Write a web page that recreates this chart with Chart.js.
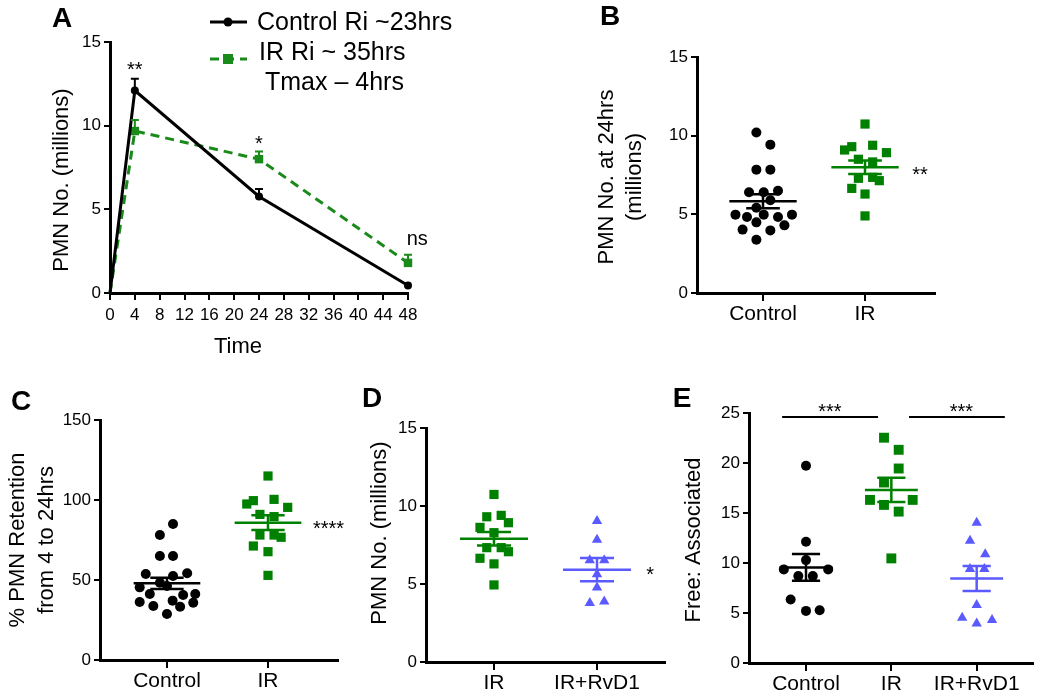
<!DOCTYPE html>
<html>
<head>
<meta charset="utf-8">
<script src="https://cdn.jsdelivr.net/npm/chart.js@4.4.0/dist/chart.umd.min.js"></script>
<style>
  body { margin: 0; background: #fff; }
  #wrap { position: relative; width: 1041px; height: 695px; }
  #wrap canvas { position: absolute; left: 0; top: 0; }
</style>
</head>
<body>
<div id="wrap">
  <canvas id="chartA" width="1041" height="695"></canvas>
  <canvas id="chartB" width="1041" height="695"></canvas>
  <canvas id="chartC" width="1041" height="695"></canvas>
  <canvas id="chartD" width="1041" height="695"></canvas>
  <canvas id="chartE" width="1041" height="695"></canvas>
</div>
<script>
// ---- A: time course ----
const timeHours = [0, 4, 24, 48];
const controlPMN = [0, 12.1, 5.77, 0.45];
const controlSEM = [0, 0.7, 0.44, 0];
const irPMN = [0, 9.68, 8.0, 1.8];
const irSEM = [0, 0.66, 0.46, 0.48];
const legendLabels = ["Control Ri ~23hrs", "IR Ri ~ 35hrs", "Tmax \u2013 4hrs"];

// ---- B: PMN at 24hrs ----
const bGroups = ["Control", "IR"];
const bControl = [10.2, 9.43, 7.84, 7.84, 6.4, 6.4, 6.5, 5.89, 5.42, 4.98, 4.83, 4.98, 4.83, 4.98, 4.03, 4.49, 3.98, 4.3, 3.39];
const bControlJit = [-0.065, 0.072, -0.065, 0.072, -0.137, 0.007, 0.147, 0.072, -0.065, -0.27, -0.157, 0.007, 0.147, 0.284, -0.2, -0.065, 0.072, 0.21, -0.065];
const bIR = [10.74, 9.09, 9.3, 9.39, 8.92, 8.5, 8.33, 7.29, 7.35, 7.14, 6.65, 6.29, 4.9];
const bIRJit = [0, -0.2, -0.13, 0.075, 0.21, -0.065, 0.075, -0.065, 0.075, 0.14, -0.13, 0, 0];
const bMean = [5.83, 7.99];
const bSEM = [0.45, 0.43];

// ---- C: % retention ----
const cGroups = ["Control", "IR"];
const cControl = [85, 78.1, 65, 65, 53.75, 52.5, 54.2, 48.3, 45.4, 41.25, 46.25, 40.6, 41.25, 36.25, 33.75, 37.1, 33.3, 35.8, 28.75];
const cControlJit = [0.06, -0.07, -0.07, 0.06, -0.21, 0.06, 0.2, -0.07, -0.27, -0.17, 0, 0.16, 0.28, -0.27, -0.135, 0.056, 0.13, 0.26, 0];
const cIR = [115, 97.5, 99.6, 100.4, 95.4, 91, 89.6, 78.1, 78.1, 76.7, 71.25, 67.7, 52.9];
const cIRJit = [0, -0.21, -0.145, 0.06, 0.195, -0.08, 0.06, -0.08, 0.06, 0.13, -0.145, 0, 0];
const cMean = [47.9, 85.8];
const cSEM = [3.45, 4.6];

// ---- D: IR vs IR+RvD1 ----
const dGroups = ["IR", "IR+RvD1"];
const dIR = [10.74, 9.31, 9.4, 8.63, 8.93, 8.29, 7.33, 7.33, 7.07, 6.65, 6.29, 4.94];
const dIRJit = [0, -0.07, 0.07, -0.136, 0.14, 0, -0.07, 0.07, 0.14, -0.136, 0, 0];
const dRvD1 = [9.04, 7.83, 6.53, 6.53, 5.63, 4.78, 3.78, 3.88];
const dRvD1Jit = [0, 0, -0.07, 0.07, 0, 0, -0.07, 0.07];
const dMean = [7.9, 5.92];
const dSEM = [0.43, 0.75];

// ---- E: free : associated ----
const eGroups = ["Control", "IR", "IR+RvD1"];
const eControl = [19.72, 12.13, 10.29, 9.36, 8.69, 8.69, 9.36, 6.35, 5.21, 5.28];
const eControlJit = [0, 0, 0, -0.26, -0.09, 0.08, 0.26, -0.18, 0, 0.16];
const eIR = [22.53, 21.32, 19.45, 18.05, 16.31, 15.81, 16.31, 15.14, 10.46];
const eIRJit = [-0.086, 0.086, 0.086, -0.086, -0.25, -0.086, 0.25, 0.086, 0];
const eRvD1 = [14.02, 12.22, 10.88, 9.41, 9.41, 5.8, 4.53, 3.96, 4.3];
const eRvD1Jit = [0, -0.078, 0.1, -0.078, 0.09, 0, -0.17, 0, 0.18];
const eMean = [9.56, 17.31, 8.46];
const eSEM = [1.34, 1.22, 1.25];

const W = 1041, H = 695, Y_W = 60, X_H = 40;
const FONT = "'Liberation Sans', Arial, Helvetica, sans-serif";
const BLACK = "#000000";
const GREEN = "#008000";
const GREEN_LINE = "#1a8a1a";
const BLUE = "#5a5aff";

Chart.defaults.font.family = FONT;
Chart.defaults.color = BLACK;

const series = (xs, ys) => xs.map((x, i) => ({ x, y: ys[i] }));
const dots = (vals, jit, idx) => vals.map((v, i) => ({ x: idx + jit[i], y: v }));

// mean line with SEM whiskers for the dot plots
const semPlugin = {
  id: "sem",
  afterDatasetsDraw(chart, args, opts) {
    if (!opts.means) return;
    const { ctx, scales: { x, y } } = chart;
    ctx.save();
    ctx.lineWidth = 2.5;
    opts.means.forEach((m, i) => {
      const s = opts.sem[i];
      const ym = y.getPixelForValue(m), yt = y.getPixelForValue(m + s), yb = y.getPixelForValue(m - s);
      const xc = x.getPixelForValue(i);
      const xl = x.getPixelForValue(i - opts.half), xr = x.getPixelForValue(i + opts.half);
      const cl = x.getPixelForValue(i - opts.cap), cr = x.getPixelForValue(i + opts.cap);
      ctx.strokeStyle = opts.colors[i];
      ctx.beginPath();
      ctx.moveTo(xl, ym); ctx.lineTo(xr, ym);
      ctx.moveTo(xc, yt); ctx.lineTo(xc, yb);
      ctx.moveTo(cl, yt); ctx.lineTo(cr, yt);
      ctx.moveTo(cl, yb); ctx.lineTo(cr, yb);
      ctx.stroke();
    });
    ctx.restore();
  }
};

// upper error bars for the time course
const errUpPlugin = {
  id: "errUp",
  afterDatasetsDraw(chart) {
    const { ctx, scales: { y } } = chart;
    ctx.save();
    ctx.lineWidth = 2;
    chart.data.datasets.forEach((ds, di) => {
      if (!ds.errors) return;
      const meta = chart.getDatasetMeta(di);
      ds.errors.forEach((e, i) => {
        if (!e) return;
        const pt = meta.data[i];
        const top = y.getPixelForValue(ds.data[i].y + e);
        ctx.strokeStyle = ds.borderColor;
        ctx.beginPath();
        ctx.moveTo(pt.x, pt.y); ctx.lineTo(pt.x, top);
        ctx.moveTo(pt.x - 4, top); ctx.lineTo(pt.x + 4, top);
        ctx.stroke();
      });
    });
    ctx.restore();
  }
};

// free text, lines and legend marks
const notesPlugin = {
  id: "notes",
  afterDraw(chart, args, opts) {
    const { ctx } = chart;
    const at = (p, xv, yv) => p.data
      ? [chart.scales.x.getPixelForValue(xv), chart.scales.y.getPixelForValue(yv)]
      : [xv, yv];
    ctx.save();
    for (const l of opts.lines || []) {
      const [x1, y1] = at(l, l.x1, l.y1);
      const [x2, y2] = at(l, l.x2, l.y2);
      ctx.strokeStyle = l.color || BLACK;
      ctx.lineWidth = l.width || 2;
      ctx.setLineDash(l.dash || []);
      ctx.beginPath(); ctx.moveTo(x1, y1); ctx.lineTo(x2, y2); ctx.stroke();
    }
    ctx.setLineDash([]);
    for (const m of opts.marks || []) {
      ctx.fillStyle = m.color;
      if (m.shape === "circle") {
        ctx.beginPath(); ctx.arc(m.x, m.y, m.r, 0, Math.PI * 2); ctx.fill();
      } else {
        ctx.fillRect(m.x - m.r, m.y - m.r, m.r * 2, m.r * 2);
      }
    }
    for (const t of opts.texts || []) {
      const [x, y] = at(t, t.x, t.y);
      ctx.font = (t.bold ? "bold " : "") + t.size + "px " + FONT;
      ctx.fillStyle = BLACK;
      ctx.textAlign = t.align || "center";
      ctx.textBaseline = t.base || "alphabetic";
      ctx.save();
      ctx.translate(x, y);
      if (t.rot) ctx.rotate(t.rot * Math.PI / 180);
      ctx.fillText(t.text, 0, 0);
      ctx.restore();
    }
    ctx.restore();
  }
};

function yAxis(max, step, size) {
  return {
    type: "linear", min: 0, max,
    ticks: { stepSize: step, font: { size }, color: BLACK, padding: 3 },
    grid: { drawOnChartArea: false, color: BLACK, lineWidth: 2, tickLength: 6 },
    border: { color: BLACK, width: 3 },
    afterFit: s => { s.width = Y_W; s.paddingTop = 0; s.paddingBottom = 0; }
  };
}

function catAxis(labels, min, max) {
  return {
    type: "linear", min, max,
    afterBuildTicks: s => { s.ticks = labels.map((_, i) => ({ value: i })); },
    ticks: { callback: v => labels[v], font: { size: 21 }, color: BLACK, padding: 1, maxRotation: 0, autoSkip: false },
    grid: { drawOnChartArea: false, color: BLACK, lineWidth: 2, tickLength: 8 },
    border: { color: BLACK, width: 3 },
    afterFit: s => { s.height = X_H; s.paddingLeft = 0; s.paddingRight = 0; }
  };
}

function padFor(area) {
  return { left: area.l - Y_W, top: area.t, right: W - area.r, bottom: H - area.b - X_H };
}

const dotSet = (data, style, radius, color) => ({
  data, pointStyle: style, pointRadius: radius, backgroundColor: color,
  pointBackgroundColor: color, pointBorderWidth: 0, borderWidth: 0, clip: false
});

function dotPlot(id, area, xAxis, y, datasets, sem, notes) {
  return new Chart(document.getElementById(id), {
    type: "scatter",
    data: { datasets },
    options: {
      responsive: false, animation: false, events: [],
      layout: { padding: padFor(area) },
      plugins: { legend: { display: false }, tooltip: { enabled: false }, sem, notes },
      scales: { x: xAxis, y }
    },
    plugins: [semPlugin, notesPlugin]
  });
}

// ---- A ----
const areaA = { l: 110, t: 42, r: 408, b: 293 };
new Chart(document.getElementById("chartA"), {
  type: "scatter",
  data: {
    datasets: [
      {
        data: series(timeHours, controlPMN), errors: controlSEM, showLine: true,
        borderColor: BLACK, borderWidth: 3,
        pointRadius: c => c.parsed.x === 0 ? 0 : 4,
        pointBackgroundColor: BLACK, pointBorderWidth: 0, clip: false
      },
      {
        data: series(timeHours, irPMN), errors: irSEM, showLine: true,
        borderColor: GREEN_LINE, borderWidth: 3, borderDash: [9, 6],
        pointStyle: "rect", pointRadius: c => c.parsed.x === 0 ? 0 : 6,
        pointBackgroundColor: GREEN_LINE, pointBorderWidth: 0, clip: false
      }
    ]
  },
  options: {
    responsive: false, animation: false, events: [],
    layout: { padding: padFor(areaA) },
    plugins: {
      legend: { display: false }, tooltip: { enabled: false },
      notes: {
        lines: [
          { x1: 210, y1: 22, x2: 247, y2: 22, width: 3 },
          { x1: 210, y1: 59, x2: 247, y2: 59, width: 3, color: GREEN_LINE, dash: [9, 6] }
        ],
        marks: [
          { shape: "circle", x: 228, y: 22, r: 4.5, color: BLACK },
          { shape: "rect", x: 228, y: 59, r: 5, color: GREEN_LINE }
        ],
        texts: [
          { text: "A", x: 62, y: 27, size: 28, bold: true },
          { text: "PMN No. (millions)", x: 62, y: 180, size: 22, rot: -90, base: "middle" },
          { text: "Time", x: 238, y: 347, size: 22, base: "middle" },
          { text: legendLabels[0], x: 257, y: 30, size: 25, align: "left" },
          { text: legendLabels[1], x: 259, y: 60, size: 25, align: "left" },
          { text: legendLabels[2], x: 265, y: 90, size: 25, align: "left" },
          { text: "**", data: true, x: 4, y: 12.97, size: 20 },
          { text: "*", data: true, x: 24, y: 8.57, size: 20 },
          { text: "ns", data: true, x: 49.5, y: 2.87, size: 20 }
        ]
      }
    },
    scales: {
      x: {
        type: "linear", min: 0, max: 48,
        ticks: { stepSize: 4, font: { size: 17 }, color: BLACK, padding: 5, maxRotation: 0, autoSkip: false },
        grid: { drawOnChartArea: false, color: BLACK, lineWidth: 2, tickLength: 7 },
        border: { color: BLACK, width: 3 },
        afterFit: s => { s.height = X_H; s.paddingLeft = 0; s.paddingRight = 0; }
      },
      y: yAxis(15, 5, 17)
    }
  },
  plugins: [errUpPlugin, notesPlugin]
});

// ---- B ----
dotPlot("chartB", { l: 697, t: 57, r: 935, b: 293 },
  catAxis(bGroups, -0.647, 1.686), yAxis(15, 5, 17),
  [
    dotSet(dots(bControl, bControlJit, 0), "circle", 5, BLACK),
    dotSet(dots(bIR, bIRJit, 1), "rect", 6.5, GREEN)
  ],
  { means: bMean, sem: bSEM, colors: [BLACK, GREEN], half: 0.33, cap: 0.165 },
  { texts: [
      { text: "B", x: 610, y: 25, size: 28, bold: true },
      { text: "PMN No. at 24hrs", x: 607, y: 177, size: 22, rot: -90, base: "middle" },
      { text: "(millions)", x: 635, y: 177, size: 22, rot: -90, base: "middle" },
      { text: "**", data: true, x: 1.54, y: 7.15, size: 20 }
  ] });

// ---- C ----
dotPlot("chartC", { l: 100, t: 420, r: 338, b: 660 },
  catAxis(cGroups, -0.663, 1.693), yAxis(150, 50, 17),
  [
    dotSet(dots(cControl, cControlJit, 0), "circle", 5, BLACK),
    dotSet(dots(cIR, cIRJit, 1), "rect", 6.5, GREEN)
  ],
  { means: cMean, sem: cSEM, colors: [BLACK, GREEN], half: 0.33, cap: 0.165 },
  { texts: [
      { text: "C", x: 21, y: 410, size: 28, bold: true },
      { text: "% PMN Retention", x: 18, y: 540, size: 22, rot: -90, base: "middle" },
      { text: "from 4 to 24hrs", x: 47, y: 540, size: 22, rot: -90, base: "middle" },
      { text: "****", data: true, x: 1.445, y: 78.4, size: 20, align: "left" }
  ] });

// ---- D ----
dotPlot("chartD", { l: 426, t: 428, r: 665, b: 662 },
  catAxis(dGroups, -0.66, 1.66), yAxis(15, 5, 17),
  [
    dotSet(dots(dIR, dIRJit, 0), "rect", 6.5, GREEN),
    dotSet(dots(dRvD1, dRvD1Jit, 1), "triangle", 6, BLUE)
  ],
  { means: dMean, sem: dSEM, colors: [GREEN, BLUE], half: 0.33, cap: 0.165 },
  { texts: [
      { text: "D", x: 372, y: 407, size: 28, bold: true },
      { text: "PMN No. (millions)", x: 380, y: 533, size: 22, rot: -90, base: "middle" },
      { text: "*", data: true, x: 1.515, y: 5.22, size: 20 }
  ] });

// ---- E ----
dotPlot("chartE", { l: 749, t: 413, r: 1033, b: 663 },
  catAxis(eGroups, -0.668, 2.66), yAxis(25, 5, 17),
  [
    dotSet(dots(eControl, eControlJit, 0), "circle", 5, BLACK),
    dotSet(dots(eIR, eIRJit, 1), "rect", 7, GREEN),
    dotSet(dots(eRvD1, eRvD1Jit, 2), "triangle", 6, BLUE)
  ],
  { means: eMean, sem: eSEM, colors: [BLACK, GREEN, BLUE], half: 0.31, cap: 0.165 },
  {
    lines: [
      { data: true, x1: -0.28, y1: 24.6, x2: 0.844, y2: 24.6, width: 2 },
      { data: true, x1: 1.207, y1: 24.6, x2: 2.33, y2: 24.6, width: 2 }
    ],
    texts: [
      { text: "E", x: 682, y: 407, size: 28, bold: true },
      { text: "Free: Associated", x: 694, y: 540, size: 22, rot: -90, base: "middle" },
      { text: "***", data: true, x: 0.28, y: 24.48, size: 20 },
      { text: "***", data: true, x: 1.82, y: 24.48, size: 20 }
    ]
  });
</script>
</body>
</html>
